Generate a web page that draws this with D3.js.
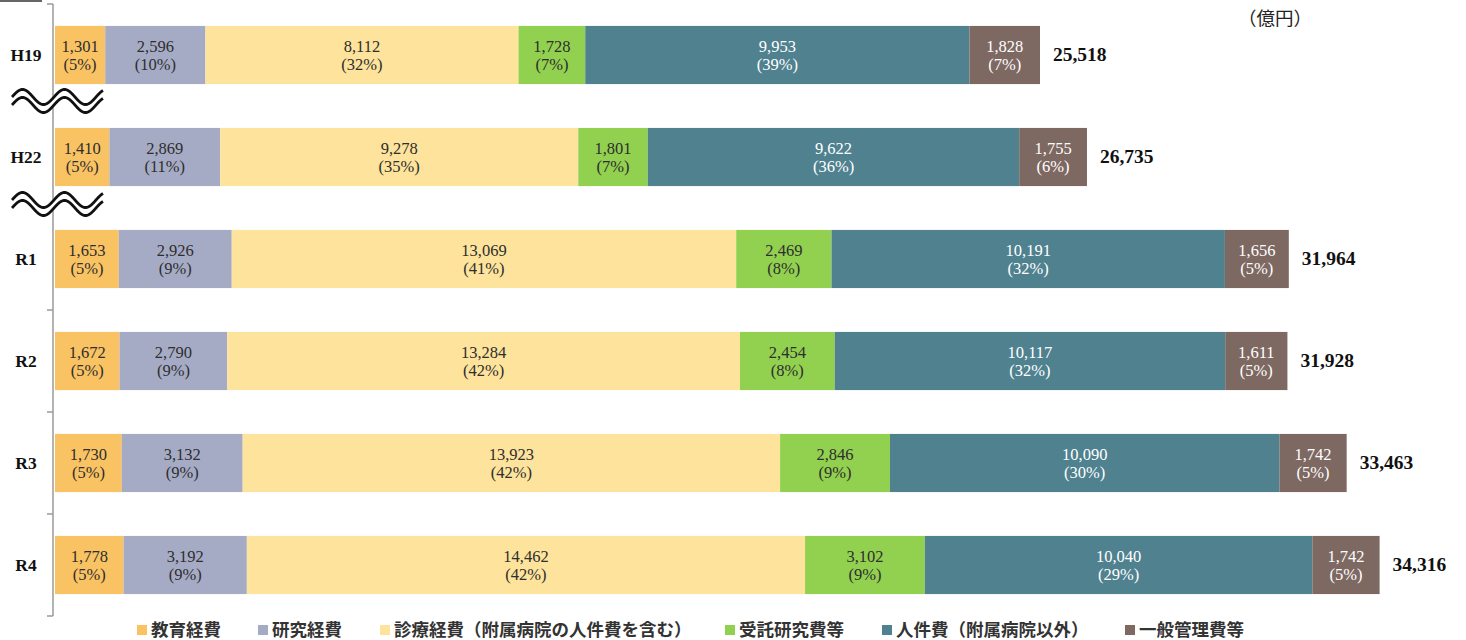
<!DOCTYPE html>
<html><head><meta charset="utf-8">
<script src="https://cdn.jsdelivr.net/npm/d3@7"></script>
<style>html,body{margin:0;padding:0;background:#fff;}svg{display:block;}</style>
</head><body>
<svg id="chart" width="1466" height="640"></svg>
<script>
const categories = ["H19","H22","R1","R2","R3","R4"];
const seriesNames = ["教育経費","研究経費","診療経費（附属病院の人件費を含む）","受託研究費等","人件費（附属病院以外）","一般管理費等"];
const eduValues = [1301,1410,1653,1672,1730,1778];
const resValues = [2596,2869,2926,2790,3132,3192];
const medValues = [8112,9278,13069,13284,13923,14462];
const conValues = [1728,1801,2469,2454,2846,3102];
const perValues = [9953,9622,10191,10117,10090,10040];
const genValues = [1828,1755,1656,1611,1742,1742];
const eduPct = [5,5,5,5,5,5];
const resPct = [10,11,9,9,9,9];
const medPct = [32,35,41,42,42,42];
const conPct = [7,7,8,8,9,9];
const perPct = [39,36,32,32,30,29];
const genPct = [7,6,5,5,5,5];
const totals = [25518,26735,31964,31928,33463,34316];
const unitLabel = "（億円）";

const colors = ["#F9C263","#A6ABC5","#FDE39B","#92D050","#4F818F","#7E6862"];
const textColors = ["#2e2e2e","#2e2e2e","#2e2e2e","#2e2e2e","#ffffff","#ffffff"];
const allValues = [eduValues,resValues,medValues,conValues,perValues,genValues];
const allPct = [eduPct,resPct,medPct,conPct,perPct,genPct];

const svg = d3.select("#chart");
const x = d3.scaleLinear().domain([0,35000]).range([55,1406]);
const y = d3.scaleBand().domain(categories).range([4,616]).paddingInner(0.43).paddingOuter(0.215);
const fmt = d3.format(",");
const serif = "'Liberation Serif','Times New Roman',serif";

// stack
const rows = categories.map((c,i)=>{const o={cat:c}; seriesNames.forEach((s,j)=>o[s]=allValues[j][i]); return o;});
const stack = d3.stack().keys(seriesNames)(rows);

// axis
const ax = svg.append("g");
ax.append("line").attr("x1",53).attr("x2",53).attr("y1",4).attr("y2",616).attr("stroke","#9a9a9a").attr("stroke-width",1.5);
const bounds = d3.range(categories.length+1).map(i=>4+i*y.step());
ax.selectAll(".tk").data(bounds).join("line").attr("x1",47).attr("x2",53).attr("y1",d=>d).attr("y2",d=>d).attr("stroke","#9a9a9a").attr("stroke-width",1.5);
svg.append("line").attr("x1",0).attr("x2",42).attr("y1",1).attr("y2",1).attr("stroke","#666").attr("stroke-width",2);

// bars
stack.forEach((layer,j)=>{
  const g = svg.append("g");
  g.selectAll("rect").data(layer).join("rect")
    .attr("x",d=>x(d[0])).attr("width",d=>x(d[1])-x(d[0]))
    .attr("y",(d,i)=>y(categories[i])).attr("height",y.bandwidth())
    .attr("fill",colors[j]);
  const t = g.selectAll("text").data(layer).join("text")
    .attr("text-anchor","middle")
    .attr("font-family",serif)
    .attr("font-size",16.5).attr("fill",textColors[j]);
  t.append("tspan").attr("x",d=>(x(d[0])+x(d[1]))/2).attr("y",(d,i)=>y(categories[i])+y.bandwidth()/2-3)
    .text((d,i)=>fmt(allValues[j][i]));
  t.append("tspan").attr("x",d=>(x(d[0])+x(d[1]))/2).attr("y",(d,i)=>y(categories[i])+y.bandwidth()/2+15)
    .text((d,i)=>"("+allPct[j][i]+"%)");
});

// totals
svg.append("g").selectAll("text").data(categories).join("text")
  .attr("x",(c,i)=>x(totals[i])+13).attr("y",c=>y(c)+y.bandwidth()/2+6)
  .attr("font-family",serif).attr("font-weight","bold").attr("font-size",19.5)
  .attr("fill","#111").text((c,i)=>fmt(totals[i]));

// category labels
svg.append("g").selectAll("text").data(categories).join("text")
  .attr("x",26).attr("y",c=>y(c)+y.bandwidth()/2+6).attr("text-anchor","middle")
  .attr("font-family",serif).attr("font-weight","bold").attr("font-size",17.5)
  .attr("fill","#111").text(c=>c);

// break marks (waves)
function wavePath(cy){
  const pts = d3.range(0,92,1).map(px=>[12+px, cy - 7.5*Math.sin((px/42)*2*Math.PI)]);
  return d3.line()(pts);
}
[97,200].forEach(cy=>{
  const g = svg.append("g");
  g.append("path").attr("d",wavePath(cy+4)).attr("fill","none").attr("stroke","#fff").attr("stroke-width",8);
  g.append("path").attr("d",wavePath(cy)).attr("fill","none").attr("stroke","#111").attr("stroke-width",2.8);
  g.append("path").attr("d",wavePath(cy+8)).attr("fill","none").attr("stroke","#111").attr("stroke-width",2.8);
});

// unit
svg.append("text").attr("x",1238).attr("y",25).attr("font-family","'Noto Sans CJK JP',sans-serif")
  .attr("font-size",18.5).attr("fill","#222").text(unitLabel);

// legend
const legendX = [137,258,380,725,882,1125];
const lg = svg.append("g").selectAll("g").data(seriesNames).join("g")
  .attr("transform",(d,i)=>`translate(${legendX[i]},629)`);
lg.append("rect").attr("x",0).attr("y",-4).attr("width",10).attr("height",10).attr("fill",(d,i)=>colors[i]);
lg.append("text").attr("x",14).attr("y",7).attr("font-family","'Noto Sans CJK JP',sans-serif")
  .attr("font-weight","bold").attr("font-size",17.5).attr("fill","#333").text(d=>d);
</script>
</body></html>
